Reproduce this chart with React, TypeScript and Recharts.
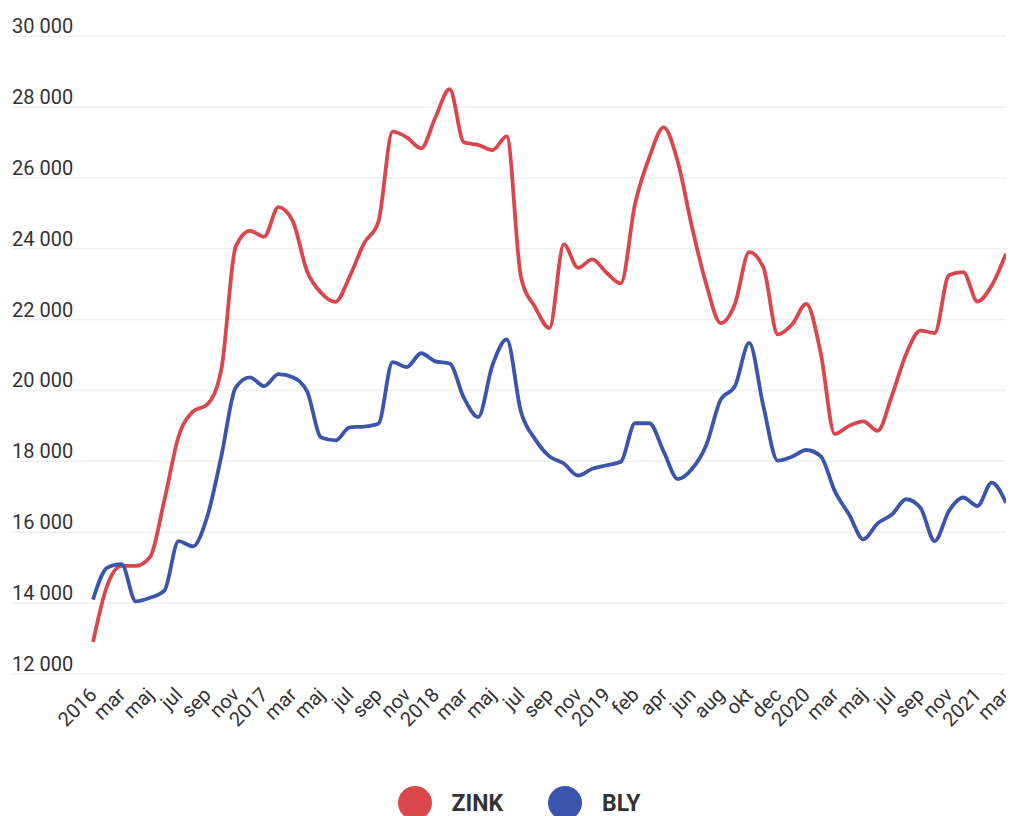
import React from 'react';
import { LineChart, Line, XAxis, YAxis, CartesianGrid, Legend } from 'recharts';

const monthLabels: string[] = [
  '2016', 'feb', 'mar', 'apr', 'maj', 'jun', 'jul', 'aug', 'sep', 'okt', 'nov', 'dec',
  '2017', 'feb', 'mar', 'apr', 'maj', 'jun', 'jul', 'aug', 'sep', 'okt', 'nov', 'dec',
  '2018', 'feb', 'mar', 'apr', 'maj', 'jun', 'jul', 'aug', 'sep', 'okt', 'nov', 'dec',
  '2019', 'jan', 'feb', 'mar', 'apr', 'maj', 'jun', 'jul', 'aug', 'sep', 'okt', 'nov', 'dec', 'dec',
  '2020', 'feb', 'mar', 'apr', 'maj', 'jun', 'jul', 'aug', 'sep', 'okt', 'nov', 'dec',
  '2021', 'feb', 'mar',
];

const zink: number[] = [
  12900, 14500, 15050, 15050, 15300, 16900, 18700, 19400, 19600, 20600, 24050, 24500,
  24340, 25170, 24780, 23370, 22750, 22500, 23220, 24150, 24750, 27300, 27140, 26830,
  27700, 28500, 27000, 26930, 26780, 27170, 23200, 22340, 21760, 24120, 23460, 23700,
  23320, 23020, 25270, 26580, 27420, 26440, 24590, 22980, 21900, 22440, 23900, 23460, 21580, 21860,
  22440, 21080, 18770, 19000, 19130, 18860, 19850, 21030, 21690, 21620, 23250, 23340,
  22510, 22960, 23860,
];

const bly: number[] = [
  14100, 15000, 15100, 14050, 14150, 14350, 15750, 15600, 16430, 18150, 20080, 20370,
  20120, 20460, 20370, 19980, 18670, 18590, 18960, 18980, 19060, 20800, 20660, 21050,
  20820, 20760, 19790, 19250, 20710, 21440, 19400, 18620, 18140, 17940, 17600, 17790,
  17890, 17990, 19075, 19075, 18280, 17500, 17790, 18470, 19740, 20120, 21340, 19540, 18020, 18130,
  18320, 18150, 17160, 16500, 15800, 16250, 16500, 16930, 16690, 15750, 16600, 16980,
  16740, 17400, 16830,
];

const yTicks: number[] = [12000, 14000, 16000, 18000, 20000, 22000, 24000, 26000, 28000, 30000];

const seriesOrder = ['zink', 'bly'];
const seriesNames: Record<string, string> = { zink: 'ZINK', bly: 'BLY' };
const RED = '#d9464c';
const BLUE = '#3b55ad';

const data = monthLabels.map((label, i) => ({ label, zink: zink[i], bly: bly[i] }));

const fmt = (v: number) => String(v).replace(/\B(?=(\d{3})+(?!\d))/g, ' ');

const YTick = (props: any) => {
  const { y, payload } = props;
  return (
    <text x={4} y={y - 3} textAnchor="start" fontSize={20} fill="#333" fontFamily="Roboto, sans-serif">
      {fmt(payload.value)}
    </text>
  );
};

const XTick = (props: any) => {
  const { x, y, payload } = props;
  return (
    <g transform={`translate(${x + 5},${y + 14}) rotate(-45)`}>
      <text x={0} y={0} textAnchor="end" fontSize={20} fill="#333" fontFamily="Roboto, sans-serif">
        {payload.value}
      </text>
    </g>
  );
};

const LegendContent = (props: any) => {
  const payload = [...(props.payload || [])].sort(
    (a: any, b: any) => seriesOrder.indexOf(a.dataKey) - seriesOrder.indexOf(b.dataKey)
  );
  return (
    <div style={{ display: 'flex', justifyContent: 'center', alignItems: 'center', fontFamily: 'Roboto, sans-serif', paddingLeft: 16 }}>
      {payload.map((p: any, i: number) => (
        <div key={i} style={{ display: 'flex', alignItems: 'center', marginRight: i === 0 ? 45 : 0 }}>
          <svg width={34} height={34} style={{ marginRight: 20 }}>
            <circle cx={17} cy={17} r={17} fill={p.color} />
          </svg>
          <span style={{ fontSize: 23, fontWeight: 700, color: '#333' }}>{p.value}</span>
        </div>
      ))}
    </div>
  );
};

export default function App() {
  return (
    <div style={{ position: 'relative', width: 1006, height: 808 }}>
      <LineChart width={1006} height={808} data={data} margin={{ top: 28, right: 2, left: 3, bottom: 82 }}>
        <CartesianGrid horizontal vertical={false} stroke="#efefef" strokeWidth={1.5} />
        <XAxis
          dataKey="label"
          interval={1}
          tickLine={false}
          axisLine={false}
          padding={{ left: 81, right: 6 }}
          tick={<XTick />}
          height={60}
        />
        <YAxis
          domain={[12000, 30000]}
          ticks={yTicks}
          width={1}
          axisLine={false}
          tickLine={false}
          tick={<YTick />}
        />
        <Legend
          layout="horizontal"
          verticalAlign="middle"
          align="center"
          content={<LegendContent />}
          wrapperStyle={{ top: 778, left: 0, width: 1006, height: 34 }}
        />
        <Line type="monotone" dataKey="zink" name={seriesNames.zink} stroke={RED} strokeWidth={3.8} dot={false} isAnimationActive={false} />
        <Line type="monotone" dataKey="bly" name={seriesNames.bly} stroke={BLUE} strokeWidth={3.8} dot={false} isAnimationActive={false} />
      </LineChart>
    </div>
  );
}
